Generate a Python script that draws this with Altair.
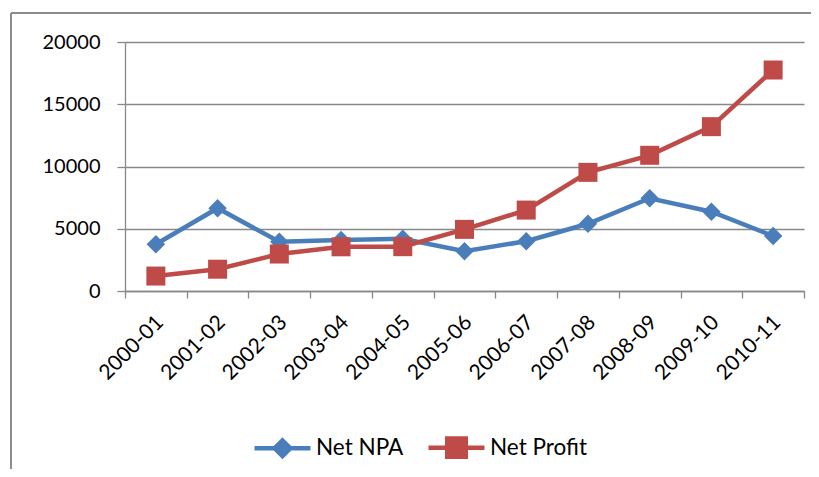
import altair as alt
import pandas as pd

years = ["2000-01", "2001-02", "2002-03", "2003-04", "2004-05", "2005-06",
         "2006-07", "2007-08", "2008-09", "2009-10", "2010-11"]
net_npa = [3750, 6650, 3950, 4100, 4200, 3200, 4000, 5400, 7450, 6370, 4420]
net_profit = [1200, 1750, 2970, 3550, 3560, 4950, 6500, 9530, 10900, 13200, 17750]
series_names = ["Net NPA", "Net Profit"]
series_colors = ["#4A7EBB", "#BE4B48"]
series_shapes = ["diamond", "square"]
y_ticks = [0, 5000, 10000, 15000, 20000]

rows = []
for name, vals in zip(series_names, [net_npa, net_profit]):
    for yr, v in zip(years, vals):
        rows.append({"year": yr, "series": name, "value": v})
df = pd.DataFrame(rows)

FONT = "Lato"
GRID = "#888888"

x = alt.X("year:N", sort=years,
          scale=alt.Scale(type="band", paddingInner=0, paddingOuter=0),
          axis=alt.Axis(title=None, labelAngle=-45, labelAlign="right", labelBaseline="middle",
                        labelOffset=4, labelPadding=21, tickSize=7, tickBand="extent",
                        domainColor=GRID, tickColor=GRID, domainWidth=1.3, tickWidth=1.3,
                        labelFont=FONT, labelFontSize=21, labelColor="#000000", grid=False))
y = alt.Y("value:Q", scale=alt.Scale(domain=[0, 20000], nice=False),
          axis=alt.Axis(title=None, values=y_ticks, format="d", tickSize=8, labelPadding=17,
                        domainColor=GRID, tickColor=GRID, domainWidth=1.3, tickWidth=1.3,
                        gridColor=GRID, gridWidth=1.3, labelFont=FONT, labelFontSize=20,
                        labelColor="#000000"))

base = alt.Chart(df)

series_layers = []
for name, col, shp, sz in zip(series_names, series_colors, series_shapes, [340, 361]):
    sub = base.transform_filter(alt.datum.series == name)
    series_layers.append(sub.mark_line(strokeWidth=4.5, color=col).encode(x=x, y=y))
    series_layers.append(sub.mark_point(shape=shp, filled=True, size=sz, opacity=1, color=col)
                         .encode(x=x, y=y))

legend_paths = [
    "M-1,0L1,0M0,-0.28L0.28,0L0,0.28L-0.28,0Z",
    "M-1,0L1,0M-0.33,-0.33L0.33,-0.33L0.33,0.33L-0.33,0.33Z",
]
leg = alt.Legend(title=None, orient="none", legendX=127, legendY=375,
                 direction="horizontal", symbolSize=3136, labelFont=FONT,
                 labelFontSize=22.5, labelColor="#000000", labelOffset=3,
                 columnPadding=15, symbolOpacity=1, symbolStrokeWidth=4.5)
lscale = alt.Scale(domain=series_names, range=series_colors)
legend_layer = base.mark_point(filled=True, size=0).encode(
    x=x, y=y,
    color=alt.Color("series:N", scale=lscale, legend=leg),
    stroke=alt.Stroke("series:N", scale=lscale, legend=leg),
    shape=alt.Shape("series:N", scale=alt.Scale(domain=series_names, range=legend_paths), legend=leg),
)

frame_left = alt.Chart(df).mark_rule(color="#8c8c8c", strokeWidth=1.5).encode(
    x=alt.value(-114), y=alt.value(-29), y2=alt.value(500))
frame_top = alt.Chart(df).mark_rule(color="#8c8c8c", strokeWidth=1.5).encode(
    x=alt.value(-114), x2=alt.value(700), y=alt.value(-29))

chart = alt.layer(frame_left, frame_top, *series_layers, legend_layer).properties(
    width=679, height=249,
    autosize=alt.AutoSizeParams(type="none"),
    padding={"left": 117, "top": 34, "right": 7, "bottom": 178},
).configure_view(stroke=None)

chart.save("out.html", embed_options={"renderer": "svg", "actions": False})
